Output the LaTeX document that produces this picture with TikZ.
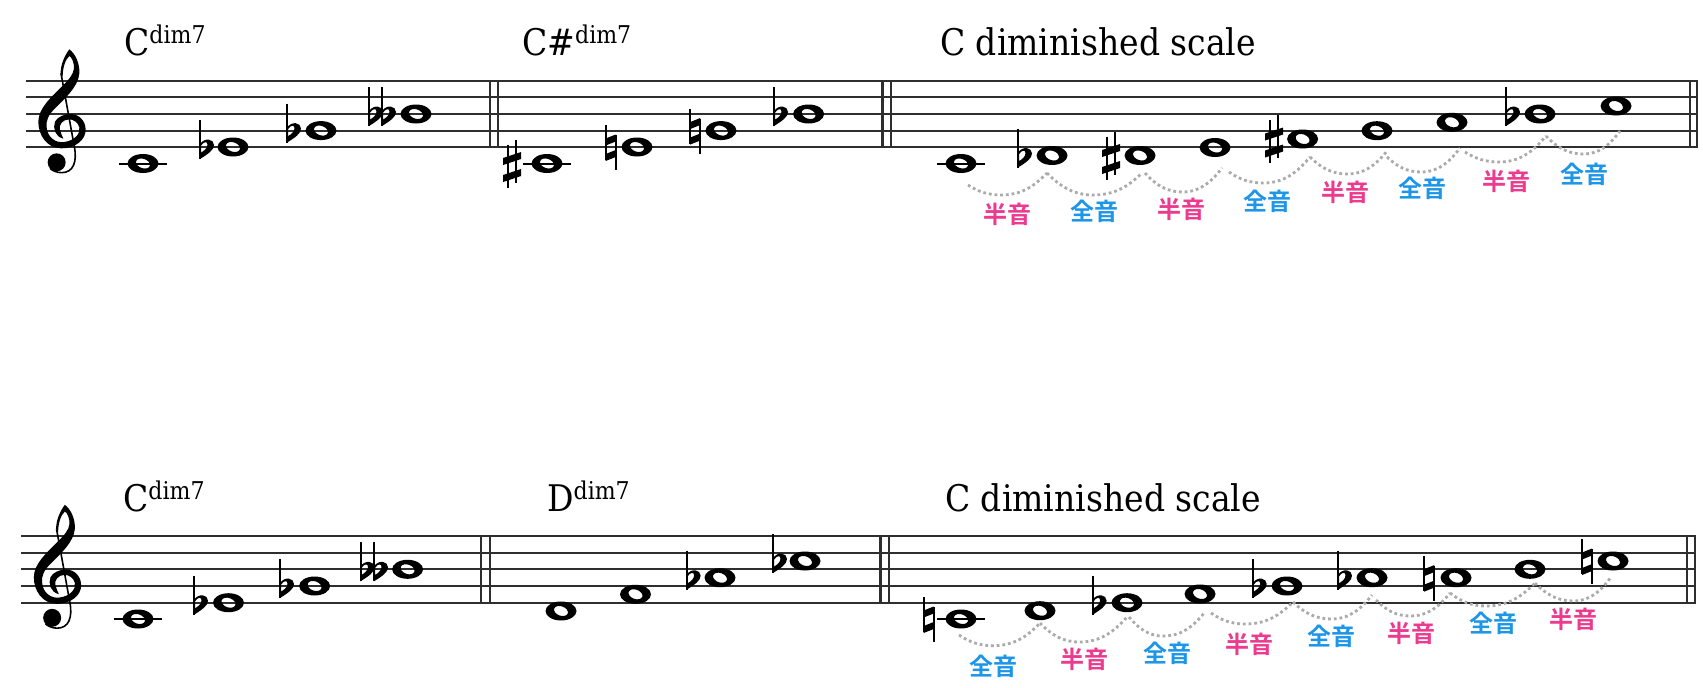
\documentclass[tikz,border=0pt]{standalone}
\usepackage{fontspec}
\setmainfont{DejaVu Serif Condensed}
\newfontfamily\cjk{Noto Sans CJK JP}[BoldFont={Noto Sans CJK JP Bold}]
\definecolor{hanpink}{HTML}{EC3A8E}
\definecolor{zenblue}{HTML}{1E96E8}
\definecolor{arcgray}{HTML}{ABABAB}
\definecolor{stafflinec}{HTML}{2E2E2E}
\tikzset{
  staffline/.style={draw=stafflinec,line width=2pt},
  barline/.style={draw=stafflinec,line width=2.2pt},
  title/.style={anchor=base west,inner sep=0pt,font=\fontsize{36.7}{36.7}\selectfont},
  dotarc/.style={draw=arcgray,line width=2.8pt,dash pattern=on 2.8pt off 2.9pt},
  hanlabel/.style={text=hanpink,inner sep=0pt,font=\cjk\bfseries\fontsize{24}{24}\selectfont},
  zenlabel/.style={text=zenblue,inner sep=0pt,font=\cjk\bfseries\fontsize{24}{24}\selectfont},
  wholenote/.pic={
    \fill[black,even odd rule] (0,0) ellipse [x radius=15.5pt,y radius=9.5pt]
      (0,0) ellipse [x radius=7.2pt,y radius=4.7pt,rotate=-20];
  },
  ledgernote/.pic={
    \draw[black,line width=2pt] (-24,0) -- (24,0);
    \fill[black,even odd rule] (0,0) ellipse [x radius=15.5pt,y radius=9.5pt]
      (0,0) ellipse [x radius=7.2pt,y radius=4.7pt,rotate=-20];
  },
  flatsign/.pic={
    \draw[black,line width=2pt] (0,-27) -- (0,12);
    \fill[black,even odd rule] (0,12) .. controls (8,7) and (14,3) .. (14,-2)
      .. controls (14,-8) and (5,-10) .. (0,-3) -- cycle
      (1.2,5.5) .. controls (4.5,3.5) and (7.5,1) .. (7.5,-2.5)
      .. controls (7.5,-6) and (3.5,-5.5) .. (1.2,-1.5) -- cycle;
  },
  sharpsign/.pic={
    \draw[black,line width=1.9pt] (-4.2,-19) -- (-4.2,24) (4.2,-24) -- (4.2,19);
    \fill[black] (-9,-5.5) -- (9,-11.5) -- (9,-4.5) -- (-9,1.5) -- cycle;
    \fill[black] (-9,11.5) -- (9,5.5) -- (9,12.5) -- (-9,18.5) -- cycle;
  },
  naturalsign/.pic={
    \draw[black,line width=2pt] (0,-22) -- (0,13) (10,-12) -- (10,23);
    \fill[black] (0,-8.5) -- (10,-12.5) -- (10,-5.5) -- (0,-1.5) -- cycle;
    \fill[black] (0,7) -- (10,3) -- (10,10) -- (0,14) -- cycle;
  },
  trebleclef/.pic={
    \fill[black] (148,28) .. controls (165,40) and (180,70) .. (178,100)
      .. controls (175,140) and (135,175) .. (105,205)
      .. controls (85,225) and (78,240) .. (80,262)
      .. controls (82,290) and (105,310) .. (132,306)
      .. controls (165,302) and (182,280) .. (178,262)
      .. controls (175,248) and (160,238) .. (148,238)
      .. controls (128,238) and (115,255) .. (120,270)
      .. controls (122,280) and (128,290) .. (130,296)
      .. controls (105,290) and (98,265) .. (105,245)
      .. controls (112,230) and (135,222) .. (150,222)
      .. controls (180,222) and (197,245) .. (197,270)
      .. controls (197,300) and (165,325) .. (125,325)
      .. controls (80,325) and (55,285) .. (55,245)
      .. controls (55,205) and (95,170) .. (125,140)
      .. controls (145,120) and (160,105) .. (162,85)
      .. controls (163,70) and (155,50) .. (148,48)
      .. controls (135,60) and (128,85) .. (128,110)
      -- (122,105) .. controls (120,75) and (135,45) .. (148,28) -- cycle;
    \draw[black,line width=1.6pt] (123,100) -- (163,320)
      .. controls (172,365) and (160,398) .. (125,398)
      .. controls (110,398) and (98,392) .. (90,385);
    \fill[black] (110,367) circle [radius=27pt];
  },
}
\begin{document}
\begin{tikzpicture}[x=1pt,y=-1pt]
\useasboundingbox (0,0) rectangle (1703,688);
\fill[white] (0,0) rectangle (1703,688);
% staves
\foreach \y in {81,97,114,131,147}
  \draw[staffline] (26,\y) -- (1696,\y);
\foreach \y in {536,553,569,586,603}
  \draw[staffline] (21,\y) -- (1694,\y);
\foreach \x in {490,498,882.5,891,1690,1697}
  \draw[barline] (\x,80) -- (\x,148);
\foreach \x in {481,489.7,880.5,889.3,1687,1695}
  \draw[barline] (\x,535) -- (\x,604);
% clefs
\pic[scale=1/3] at (20,40) {trebleclef};
\pic[scale=1/3] at (15.5,495.5) {trebleclef};
% titles
\node[title] (t1) at (124,55) {C\raisebox{12pt}{\fontsize{24.5}{24.5}\selectfont dim7}};
\node[title] (t2) at (522,55) {C\#\raisebox{12pt}{\fontsize{24.5}{24.5}\selectfont dim7}};
\node[title] (t3) at (940,55) {C diminished scale};
\node[title] (t4) at (123,511) {C\raisebox{12pt}{\fontsize{24.5}{24.5}\selectfont dim7}};
\node[title] (t5) at (547,511) {D\raisebox{12pt}{\fontsize{24.5}{24.5}\selectfont dim7}};
\node[title] (t6) at (945,511) {C diminished scale};
% ledger notes
\foreach \x/\y in {143/163.5,547/163.5,961/163.5,138/619,961/619}
  \pic at (\x,\y) {ledgernote};
% whole notes
\foreach \x/\y in {233/147,321/130.6,416/114,637/147,721/130.6,808.6/114,
  1052/155.5,1140/155.5,1215/147.5,1302.6/139,1377/130.7,1452/122.3,1540/114,1616/106,
  228.5/602.7,314.6/586,407.6/569.3,561/611,635.5/594.3,720/577.7,805/561,
  1040/610.7,1127/602.7,1200/594,1287/586,1372/577.7,1456/577.7,1530/569.3,1613/561}
  \pic at (\x,\y) {wholenote};
% flats
\foreach \x/\y in {200/147,287/130.6,369/114,382/114,774/114,1018/155.5,1506/114,
  194/602.7,280/586,360.5/569.3,374/569.3,686.6/577.7,773/561,1092.6/602.7,1252.7/586,1338/577.7}
  \pic at (\x,\y) {flatsign};
% sharps
\foreach \x/\y in {512/163.5,1111/155.5,1274/139}
  \pic at (\x,\y) {sharpsign};
% naturals
\foreach \x/\y in {605.7/147,690/130.6,923.6/619,1424/577.7,1582/561}
  \pic at (\x,\y) {naturalsign};
% dotted arcs
\foreach \sx/\sy/\lx/\ly/\ex/\ey in {
  968/185/1001/195/1047/173, 1047/173/1093/195/1142/173, 1145/173/1182/192/1222/168,
  1229/172/1263/183/1310/157, 1310/157/1347/174/1387/151, 1387/157/1421/172/1460/148,
  1465/152/1499/162/1546/136, 1546/136/1583/154/1620/131,
  959/635/993/645.7/1040/623, 1040/623/1079/642/1127/617, 1129/617/1163/636/1205/612,
  1211/613/1245/624/1293/602, 1293/602/1331/619/1372/595, 1376/600/1410/616/1450/593,
  1450/593/1486/606/1535/583, 1535/583/1573/601/1611/577}
{
  \coordinate (as) at (\sx,\sy);
  \coordinate (al) at (\lx,\ly);
  \coordinate (ae) at (\ex,\ey);
  \draw[dotarc] (as) .. controls ({\sx+0.3*(\lx-\sx)},{\sy+0.65*(\ly-\sy)}) and ({\lx-0.4*(\lx-\sx)},\ly) .. (al)
    .. controls ({\lx+0.45*(\ex-\lx)},\ly) and ({\ex-0.28*(\ex-\lx)},{\ey+0.6*(\ly-\ey)}) .. (ae);
}
% labels
\foreach \n/\x/\y in {a/1007.5/214,b/1181/209,c/1345/192,d/1506/181,
  e/1084/659,f/1249/644,g/1411/633,h/1573/619}
  \node[hanlabel] (han\n) at (\x,\y) {半音};
\foreach \n/\x/\y in {a/1094/211,b/1267/201,c/1422/188,d/1584/174,
  e/993/666,f/1167/653,g/1331.5/636,h/1493/623}
  \node[zenlabel] (zen\n) at (\x,\y) {全音};
\end{tikzpicture}
\end{document}
